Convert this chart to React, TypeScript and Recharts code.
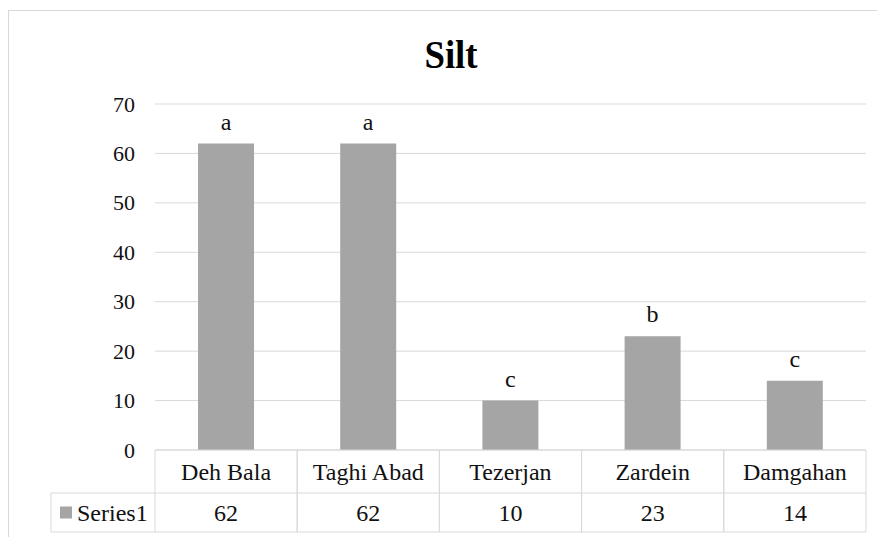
import React from 'react';
import { BarChart, Bar, XAxis, YAxis, CartesianGrid, LabelList } from 'recharts';

const sites = ['Deh Bala', 'Taghi Abad', 'Tezerjan', 'Zardein', 'Damgahan'];
const silt = [62, 62, 10, 23, 14];
const groups = ['a', 'a', 'c', 'b', 'c'];
const yTicks = [0, 10, 20, 30, 40, 50, 60, 70];
const seriesName = 'Series1';
const title = 'Silt';

const data = sites.map((site, i) => ({ site, silt: silt[i], group: groups[i] }));

const FONT = '"Liberation Serif", serif';
const BAR_COLOR = '#a5a5a5';
const LINE_COLOR = '#d9d9d9';
const TEXT_COLOR = '#111';

const W = 877;
const H = 537;
const MARGIN = { top: 104, right: 11, left: 95, bottom: 5 };
const Y_AXIS_W = 60;
const PLOT_W = W - MARGIN.left - Y_AXIS_W - MARGIN.right;
const CELL_W = PLOT_W / sites.length;
const ROW1 = 43;
const ROW2 = 82;
const TABLE_LEFT = 51;

const txt = { fontFamily: FONT, fill: TEXT_COLOR };

// data table under the plot: one column per category, drawn through the x-axis ticks
const TableTick = (props: any) => {
  const { x, y, payload, index } = props;
  const half = CELL_W / 2;
  const left = x - half;
  const right = x + half;
  const value = silt[index];
  return (
    <g>
      <line x1={left} y1={y} x2={right} y2={y} stroke={LINE_COLOR} />
      <line x1={left} y1={y + ROW1} x2={right} y2={y + ROW1} stroke={LINE_COLOR} />
      <line x1={left} y1={y + ROW2} x2={right} y2={y + ROW2} stroke={LINE_COLOR} />
      <line x1={left} y1={y} x2={left} y2={y + ROW2} stroke={LINE_COLOR} />
      <line x1={right} y1={y} x2={right} y2={y + ROW2} stroke={LINE_COLOR} />
      <text x={x} y={y + ROW1 / 2} textAnchor="middle" dominantBaseline="central"
        style={{ ...txt, fontSize: 24 }}>
        {payload.value}
      </text>
      <text x={x} y={y + (ROW1 + ROW2) / 2} textAnchor="middle" dominantBaseline="central"
        style={{ ...txt, fontSize: 24 }}>
        {value}
      </text>
      {index === 0 && (
        <g>
          <line x1={TABLE_LEFT} y1={y + ROW1} x2={left} y2={y + ROW1} stroke={LINE_COLOR} />
          <line x1={TABLE_LEFT} y1={y + ROW2} x2={left} y2={y + ROW2} stroke={LINE_COLOR} />
          <line x1={TABLE_LEFT} y1={y + ROW1} x2={TABLE_LEFT} y2={y + ROW2} stroke={LINE_COLOR} />
          <rect x={TABLE_LEFT + 9} y={y + (ROW1 + ROW2) / 2 - 6} width={12} height={12} fill={BAR_COLOR} />
          <text x={TABLE_LEFT + 26} y={y + (ROW1 + ROW2) / 2} dominantBaseline="central"
            style={{ ...txt, fontSize: 24 }}>
            {seriesName}
          </text>
        </g>
      )}
    </g>
  );
};

const ValueTick = (props: any) => {
  const { x, y, payload } = props;
  return (
    <text x={x} y={y} textAnchor="end" dominantBaseline="central" style={{ ...txt, fontSize: 22 }}>
      {payload.value}
    </text>
  );
};

const GroupLabel = (props: any) => {
  const { x, y, width, value } = props;
  return (
    <text x={x + width / 2} y={y - 14} textAnchor="middle" style={{ ...txt, fontSize: 24 }}>
      {value}
    </text>
  );
};

const App: React.FC = () => {
  return (
    <div style={{ position: 'absolute', left: 0, top: 0, width: W, height: H, background: '#fff' }}>
      <div style={{
        position: 'absolute', left: 8, top: 10, width: W, height: H,
        border: '1px solid #d9d9d9', boxSizing: 'border-box',
      }} />
      <div style={{ position: 'absolute', left: 0, top: 0 }}>
        <BarChart width={W} height={H} data={data} margin={MARGIN}>
          <CartesianGrid vertical={false} stroke={LINE_COLOR} />
          <XAxis
            dataKey="site"
            axisLine={false}
            tickLine={false}
            tickSize={0}
            tickMargin={0}
            interval={0}
            height={ROW2}
            tick={<TableTick />}
          />
          <YAxis
            domain={[0, 70]}
            ticks={yTicks}
            axisLine={false}
            tickLine={false}
            tickSize={0}
            tickMargin={20}
            width={Y_AXIS_W}
            tick={<ValueTick />}
          />
          <Bar dataKey="silt" fill={BAR_COLOR} barSize={56} isAnimationActive={false}>
            <LabelList dataKey="group" content={<GroupLabel />} />
          </Bar>
        </BarChart>
      </div>
      <svg width={W} height={90} style={{ position: 'absolute', left: 0, top: 0 }}>
        <text transform="translate(451 68) scale(0.92 1)" textAnchor="middle"
          style={{ fontFamily: FONT, fontWeight: 'bold', fontSize: 40, fill: '#000' }}>
          {title}
        </text>
      </svg>
    </div>
  );
};

export default App;
